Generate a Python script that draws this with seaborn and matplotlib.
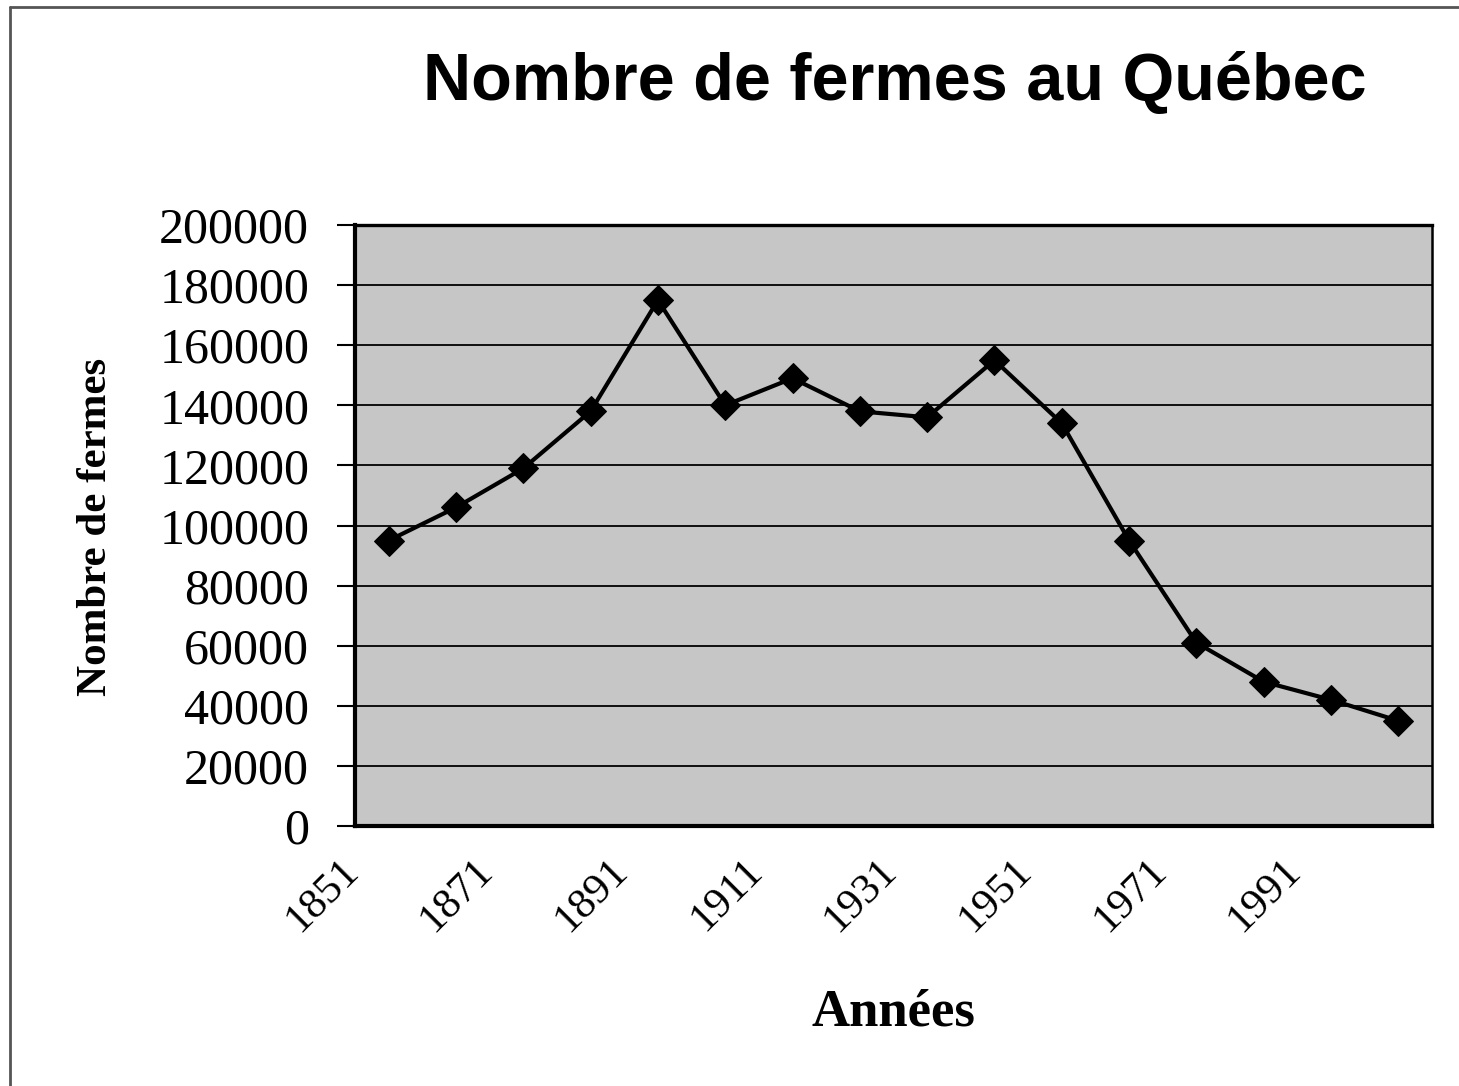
import numpy as np
import pandas as pd
import matplotlib
matplotlib.use("Agg")
import matplotlib.pyplot as plt
import matplotlib.transforms as mtransforms
from matplotlib.lines import Line2D
import seaborn as sns

# ======================================
# DONNÉES
# ======================================
annees = ["1851", "1861", "1871", "1881", "1891", "1901", "1911", "1921",
          "1931", "1941", "1951", "1961", "1971", "1981", "1991", "2001"]
fermes = [95000, 106000, 119000, 138000, 175000, 140000, 149000, 138000,
          136000, 155000, 134000, 95000, 61000, 48000, 42000, 35000]
y_ticks = [0, 20000, 40000, 60000, 80000, 100000, 120000, 140000,
           160000, 180000, 200000]

df = pd.DataFrame({"annee": annees, "fermes": fermes})

# ======================================
# STYLE
# ======================================
sns.set_style("white")
plt.rcParams["font.family"] = ["Liberation Serif", "DejaVu Serif"]
plt.rcParams["text.color"] = "black"
plt.rcParams["xtick.color"] = "black"
plt.rcParams["ytick.color"] = "black"

fig = plt.figure(figsize=(14.59, 10.86), dpi=100)
ax = fig.add_axes([355 / 1459, 1 - 826 / 1086, (1432 - 355) / 1459, (826 - 225) / 1086])
ax.set_facecolor("#c6c6c6")

sns.lineplot(data=df, x="annee", y="fermes", ax=ax, color="black",
             linewidth=3, marker="D", markersize=15, markeredgecolor="black",
             markerfacecolor="black", zorder=5)

n = len(annees)
ax.set_xlim(-0.5, n - 0.5)
ax.set_ylim(0, 200000)

# grille horizontale
ax.set_yticks(y_ticks)
ax.set_yticklabels([str(v) for v in y_ticks], fontsize=36, color="black")
ax.yaxis.grid(True, color="black", linewidth=1.3)
ax.set_axisbelow(True)

# étiquettes x (une sur deux) + graduations aux limites des catégories
ax.set_xticks(np.arange(0, n, 2))
ax.set_xticklabels(annees[::2], fontsize=31, rotation=45, ha="right",
                   va="center", rotation_mode="anchor", color="black")
ax.set_xticks(np.arange(-0.5, n, 1), minor=True)
ax.tick_params(axis="x", which="major", length=0, pad=28)
ax.tick_params(axis="x", which="minor", length=12, width=1.5, color="black", direction="out")
ax.tick_params(axis="y", which="major", length=13, width=1.5, color="black",
               direction="out", pad=20, left=True)
offset = mtransforms.ScaledTranslation(-36 / 100, 0, fig.dpi_scale_trans)
for lbl in ax.get_xticklabels():
    lbl.set_transform(lbl.get_transform() + offset)

for side, lw in [("left", 3.0), ("bottom", 3.0), ("top", 2.4), ("right", 1.8)]:
    ax.spines[side].set_visible(True)
    ax.spines[side].set_color("black")
    ax.spines[side].set_linewidth(lw)

ax.set_xlabel("")
ax.set_ylabel("")

# titres
fig.text(895 / 1459, 1 - 82 / 1086, "Nombre de fermes au Québec",
         fontsize=48, fontweight="bold", family=["Liberation Sans", "DejaVu Sans"],
         ha="center", va="center", color="black")
fig.text(893 / 1459, 1 - 1012 / 1086, "Années", fontsize=38, fontweight="bold",
         ha="center", va="center", color="black")
fig.text(96 / 1459, 1 - 527 / 1086, "Nombre de fermes", fontsize=31, fontweight="bold",
         rotation=90, ha="center", va="center", color="black")

# cadre du graphique
fig.add_artist(Line2D([10 / 1459, 1], [1 - 7 / 1086, 1 - 7 / 1086], color="#555555",
                      linewidth=2, transform=fig.transFigure))
fig.add_artist(Line2D([10 / 1459, 10 / 1459], [0, 1 - 7 / 1086], color="#555555",
                      linewidth=2, transform=fig.transFigure))

fig.savefig("out.png", dpi=100, facecolor="white")
